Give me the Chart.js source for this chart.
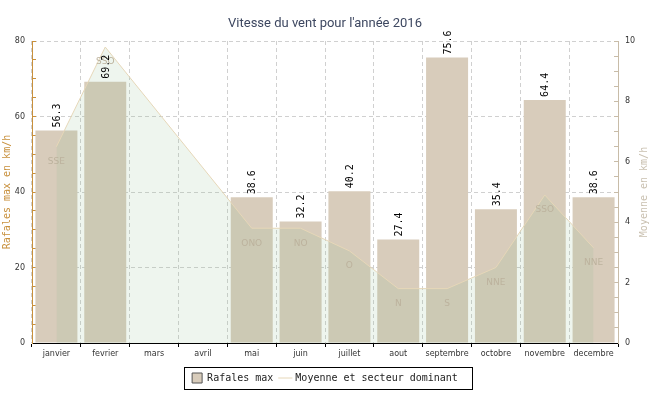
<!DOCTYPE html>
<html>
<head>
<meta charset="utf-8">
<script src="https://cdn.jsdelivr.net/npm/chart.js@4/dist/chart.umd.min.js"></script>
<style>
  html, body { margin: 0; padding: 0; background: #ffffff; }
  #wrap { width: 650px; height: 400px; }
</style>
</head>
<body>
<div id="wrap"><canvas id="c" width="650" height="400"></canvas></div>
<script>
// ---- data ----
const categories = ['janvier', 'fevrier', 'mars', 'avril', 'mai', 'juin', 'juillet', 'aout', 'septembre', 'octobre', 'novembre', 'decembre'];
const rafalesMax = [56.3, 69.2, null, null, 38.6, 32.2, 40.2, 27.4, 75.6, 35.4, 64.4, 38.6];
const moyenne = [6.5, 9.8, null, null, 3.8, 3.8, 3.05, 1.8, 1.8, 2.5, 4.9, 3.15];
const secteur = ['SSE', 'SSO', null, null, 'ONO', 'NO', 'O', 'N', 'S', 'NNE', 'SSO', 'NNE'];
const leftMax = 80;
const rightMax = 10;
const titleText = "Vitesse du vent pour l'année 2016";
const leftTitle = 'Rafales max en km/h';
const rightTitle = 'Moyenne en km/h';

Chart.defaults.font.family = 'DejaVu Sans';

const overlayPlugin = {
  id: 'overlay',
  afterDatasetsDraw(chart) {
    const ctx = chart.ctx;
    // direction labels under line points
    const lineMeta = chart.getDatasetMeta(1);
    ctx.save();
    ctx.font = '9px "DejaVu Sans"';
    ctx.fillStyle = '#bcb29d';
    ctx.textAlign = 'center';
    ctx.textBaseline = 'middle';
    lineMeta.data.forEach((pt, i) => {
      if (secteur[i] && moyenne[i] !== null) {
        ctx.fillText(secteur[i], pt.x, pt.y + 15);
      }
    });
    ctx.restore();
    // value labels above bars, rotated
    const barMeta = chart.getDatasetMeta(0);
    ctx.save();
    ctx.font = '10px "DejaVu Sans Mono"';
    ctx.fillStyle = '#000000';
    ctx.textAlign = 'left';
    ctx.textBaseline = 'middle';
    barMeta.data.forEach((bar, i) => {
      const v = rafalesMax[i];
      if (v === null) return;
      ctx.save();
      ctx.translate(bar.x + 1, bar.y - 3);
      ctx.rotate(-Math.PI / 2);
      ctx.fillText(v.toFixed(1), 0, 0);
      ctx.restore();
    });
    ctx.restore();
  },
  afterDraw(chart) {
    const ctx = chart.ctx;
    // right axis title, reading bottom to top
    const ca = chart.chartArea;
    ctx.save();
    ctx.font = '10px "DejaVu Sans Mono"';
    ctx.fillStyle = '#c9c0b0';
    ctx.textAlign = 'center';
    ctx.textBaseline = 'middle';
    ctx.translate(644, (ca.top + ca.bottom) / 2);
    ctx.rotate(-Math.PI / 2);
    ctx.fillText(rightTitle, 0, 0);
    ctx.restore();
    // legend frame
    const lg = chart.legend;
    if (lg && lg.legendHitBoxes && lg.legendHitBoxes.length) {
      const hb = lg.legendHitBoxes;
      const first = hb[0], last = hb[hb.length - 1];
      const l = Math.round(first.left - 8) + 0.5;
      const r = Math.round(last.left + last.width + 14) + 0.5;
      const cy = first.top + first.height / 2;
      const t = Math.round(cy - 11) + 0.5;
      const b = Math.round(cy + 11) + 0.5;
      ctx.save();
      ctx.strokeStyle = '#000000';
      ctx.lineWidth = 1;
      ctx.strokeRect(l, t, r - l, b - t);
      ctx.restore();
    }
  }
};

new Chart(document.getElementById('c'), {
  type: 'bar',
  data: {
    labels: categories,
    datasets: [
      {
        type: 'bar',
        label: 'Rafales max',
        data: rafalesMax,
        yAxisID: 'y',
        order: 2,
        backgroundColor: '#d8ccbb',
        borderWidth: 0,
        barPercentage: 0.86,
        categoryPercentage: 1,
        pointStyle: 'rect'
      },
      {
        type: 'line',
        label: 'Moyenne et secteur dominant',
        data: moyenne,
        yAxisID: 'y1',
        order: 1,
        borderColor: '#e6d7b8',
        borderWidth: 1,
        backgroundColor: 'rgba(140,190,140,0.15)',
        fill: 'origin',
        pointRadius: 0,
        pointHoverRadius: 0,
        pointStyle: 'line',
        spanGaps: true,
        tension: 0
      }
    ]
  },
  options: {
    responsive: false,
    animation: false,
    events: [],
    layout: { padding: { left: 0, right: 0, top: 0, bottom: 7 } },
    plugins: {
      title: {
        display: true,
        text: titleText,
        color: '#3d4760',
        font: { family: 'Roboto', size: 13, weight: 'normal' },
        padding: { top: 16, bottom: 9.4 }
      },
      legend: {
        display: true,
        position: 'bottom',
        labels: {
          usePointStyle: true,
          padding: 7,
          color: '#222222',
          font: { family: 'DejaVu Sans Mono', size: 10 },
          sort: (a, b) => a.datasetIndex - b.datasetIndex,
          generateLabels(chart) {
            const items = Chart.defaults.plugins.legend.labels.generateLabels(chart);
            items.forEach(it => {
              if (it.datasetIndex === 0) {
                it.pointStyle = 'rect';
                it.fillStyle = '#d8ccbb';
                it.strokeStyle = '#555555';
                it.lineWidth = 1;
              } else {
                it.pointStyle = 'line';
                it.strokeStyle = '#e6d7b8';
                it.lineWidth = 1;
              }
            });
            return items;
          }
        }
      },
      tooltip: { enabled: false }
    },
    scales: {
      x: {
        offset: true,
        grid: {
          offset: true,
          color: '#d0d0d0',
          tickColor: '#000000',
          tickLength: 4,
          tickBorderDash: [],
          drawOnChartArea: true
        },
        border: { color: '#000000', width: 1, dash: [4, 3] },
        ticks: {
          font: { family: 'DejaVu Sans', size: 8 },
          color: '#333333',
          padding: 2,
          maxRotation: 0,
          autoSkip: false
        },
        afterFit: s => { s.height = 23; }
      },
      y: {
        position: 'left',
        min: 0,
        max: leftMax,
        grid: {
          color: c => (c.tick && c.tick.value % 20 === 0) ? '#d0d0d0' : 'rgba(0,0,0,0)',
          tickColor: '#c8903c',
          tickLength: -4,
          tickBorderDash: []
        },
        border: { color: '#c8903c', width: 1, dash: [4, 3] },
        ticks: {
          stepSize: 5,
          autoSkip: false,
          padding: 11,
          color: '#333333',
          font: { family: 'DejaVu Sans', size: 8 },
          callback: v => (v % 20 === 0 ? String(v) : '')
        },
        title: {
          display: true,
          text: leftTitle,
          color: '#c8903c',
          font: { family: 'DejaVu Sans Mono', size: 10 },
          padding: 1
        },
        afterFit: s => { s.width = 32; }
      },
      y1: {
        position: 'right',
        min: 0,
        max: rightMax,
        grid: {
          drawOnChartArea: false,
          color: '#c8bca8',
          tickColor: '#c8bca8',
          tickLength: -4,
          tickBorderDash: []
        },
        border: { color: '#c8bca8', width: 1 },
        ticks: {
          stepSize: 0.5,
          autoSkip: false,
          padding: 11,
          color: '#333333',
          font: { family: 'DejaVu Sans', size: 8 },
          callback: v => (v % 2 === 0 ? String(v) : '')
        },
        afterFit: s => { s.width = 32; }
      }
    }
  },
  plugins: [overlayPlugin]
});
</script>
</body>
</html>
